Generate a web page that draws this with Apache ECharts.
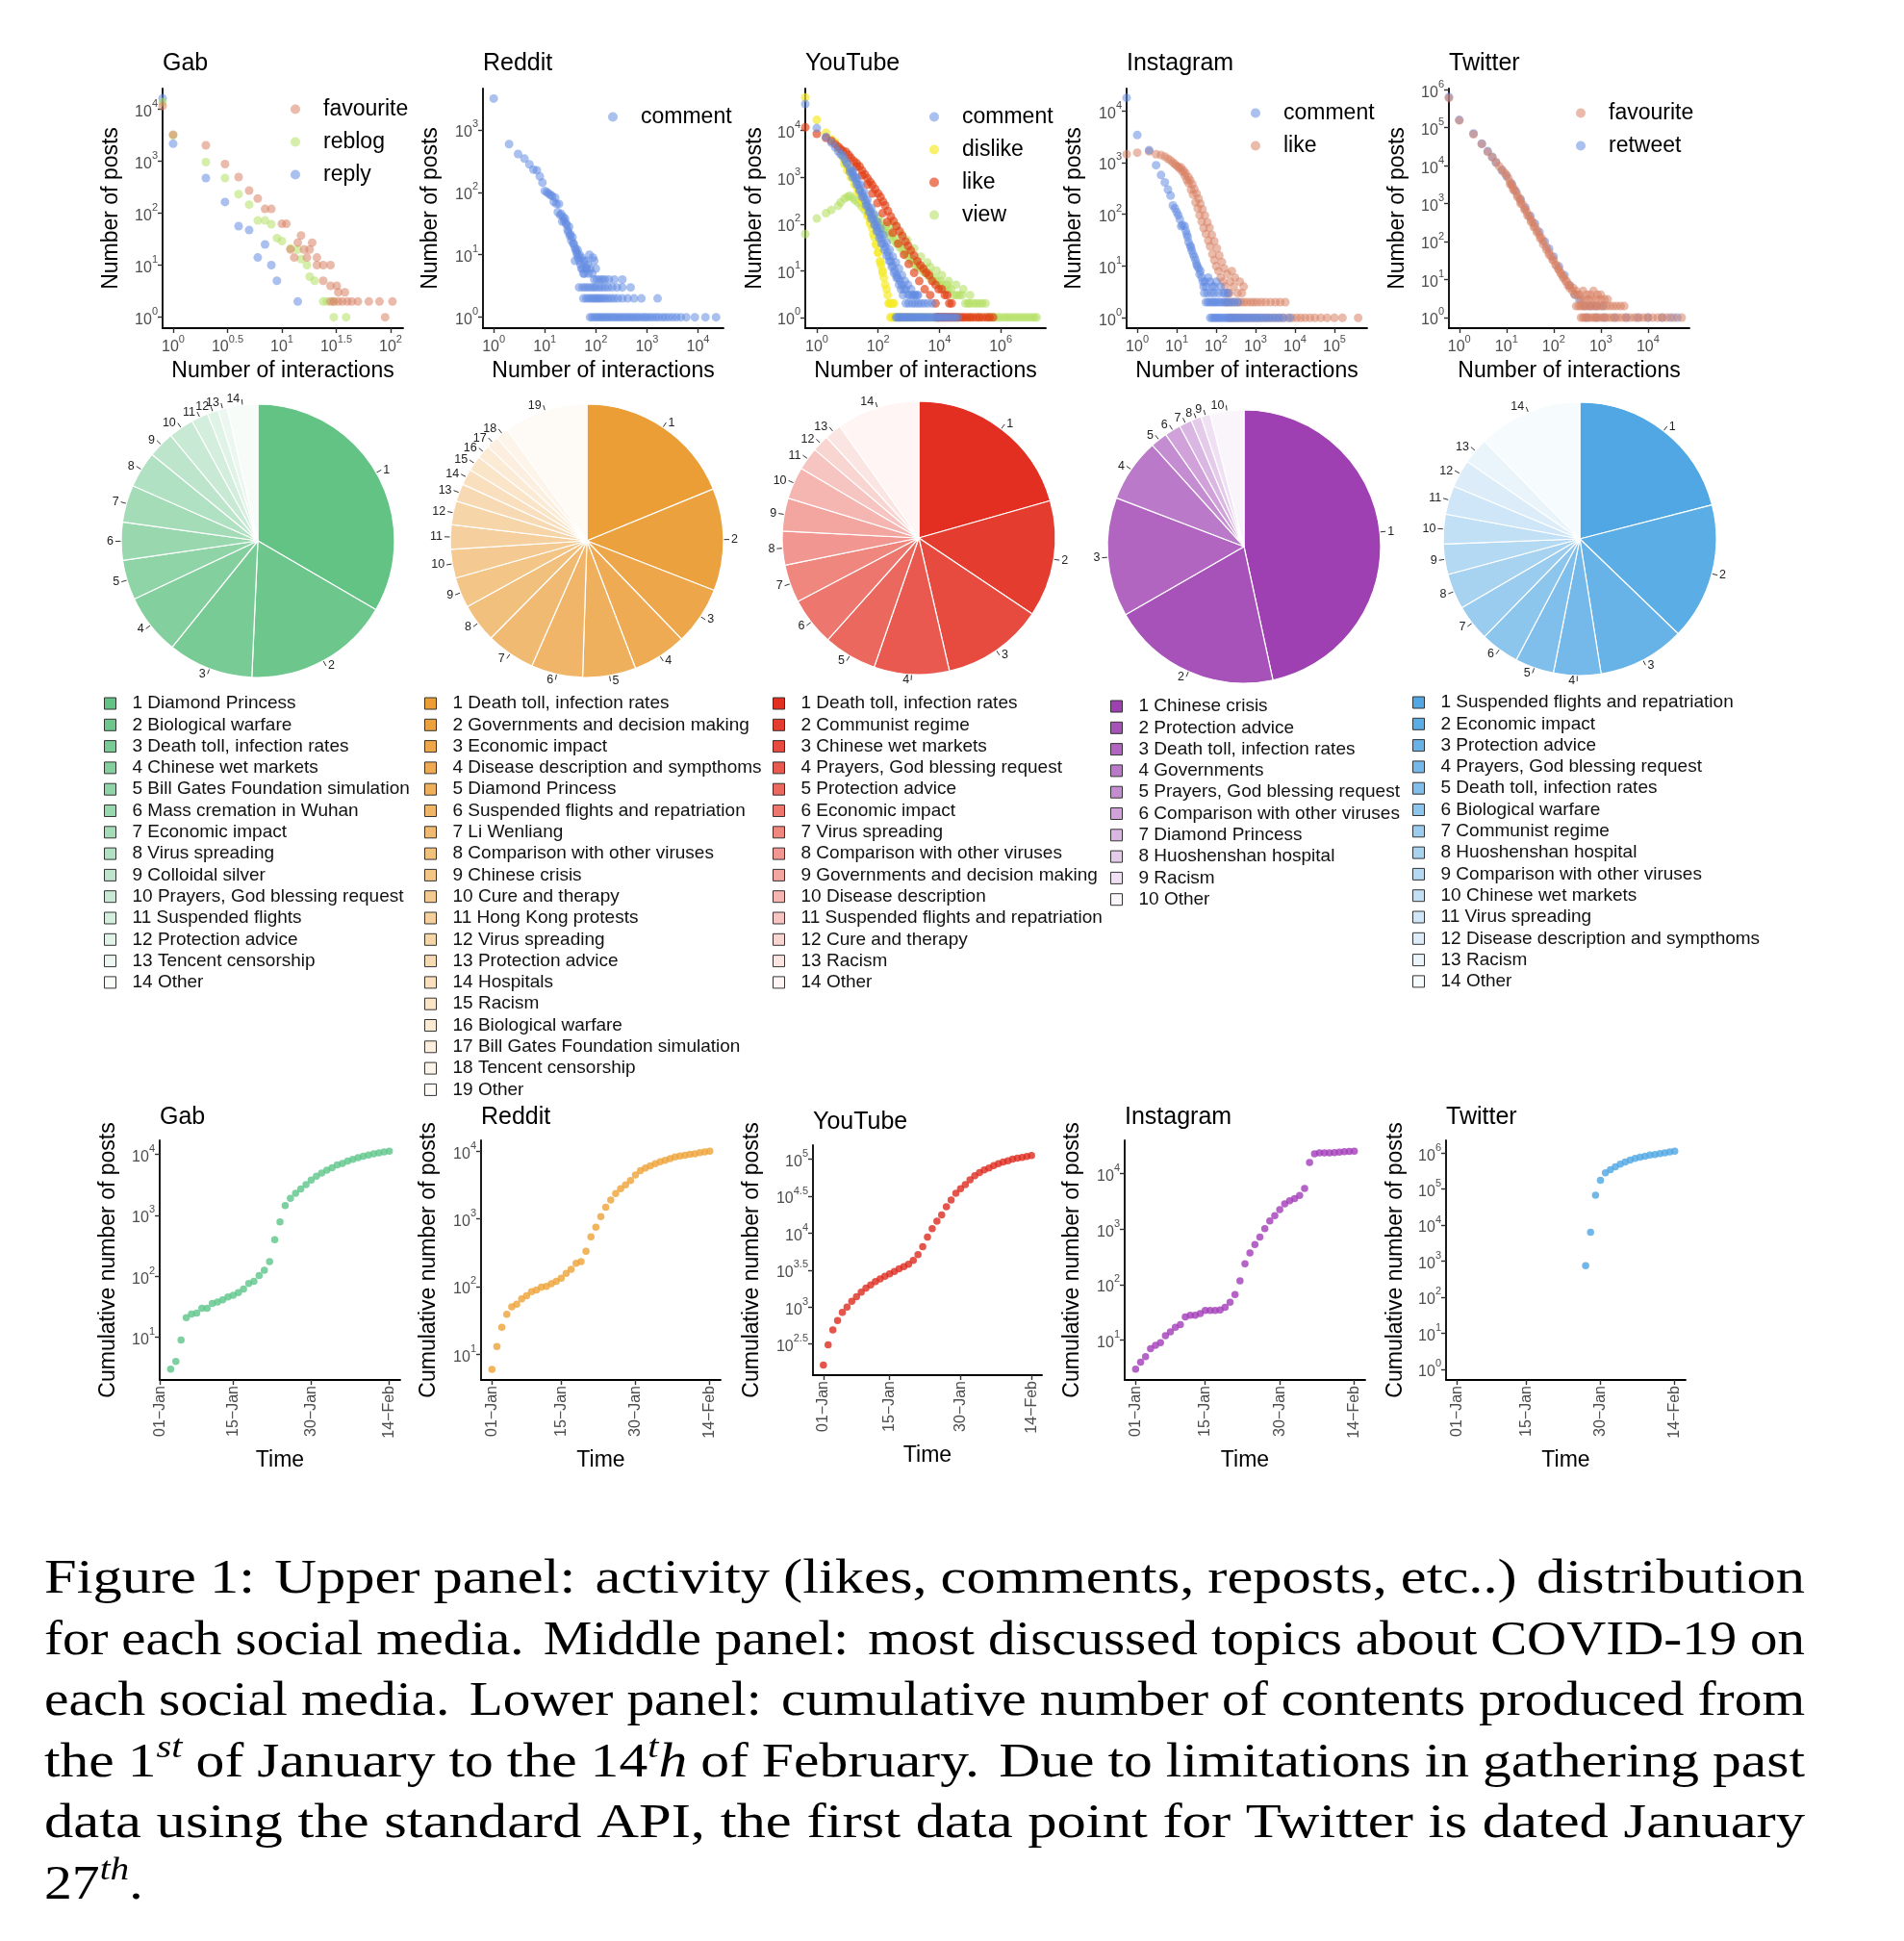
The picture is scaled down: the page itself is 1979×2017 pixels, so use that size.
<!DOCTYPE html>
<html><head><meta charset="utf-8">
<script src="https://cdn.jsdelivr.net/npm/echarts@6/dist/echarts.min.js"></script>
<style>html,body{margin:0;padding:0;background:#fff}#c{width:1979px;height:2017px}</style>
</head><body><div id="c"></div>
<script>
// ---------------- DATA ----------------
const platforms = ['Gab', 'Reddit', 'YouTube', 'Instagram', 'Twitter'];

// Upper panel: [number of interactions, number of posts]  (0 interactions drawn at panel edge)
const gabFavourite = [[0,11400],[1,3200],[2,2000],[3,870],[4,490],[5,270],[6,190],[7,120],[8,120],[10,62],[11,62],[15,37],[14,27],[19,27],[12,20],[16,20],[18,20],[13,14],[17,14],[21,14],[21,10],[24,10],[28,10],[24,5],[28,4],[32,4],[33,3],[38,3],[28,2],[30,2],[33,2],[36,2],[40,2],[44,2],[50,2],[63,2],[79,2],[104,2],[89,1]];
const gabReblog = [[0,13500],[1,3100],[2,950],[3,470],[4,230],[5,145],[6,72],[7,72],[8,61],[9,33],[10,29],[12,21],[14,20],[15,13],[17,10],[18,6],[20,5],[24,2],[26,2],[30,2],[30,1],[39,1]];
const gabReply = [[0,16000],[1,2140],[2,470],[3,163],[4,56],[5,47],[7,25],[6,14],[8,10],[9,5],[14,2]];

const redditComment = [[1,3160],[2,590],[3,410],[4,345],[5,280],[6,230],[7,225],[8,180],[9,143],[10,105],[11,100],[12,95],[13,90],[14,87],[15,70],[16,82],[17,65],[18,48],[19,65],[20,43],[21,45],[22,34],[23,40],[24,35],[25,38],[26,32],[27,30],[28,25],[29,23],[30,28],[31,20],[32,21],[33,17],[35,19],[36,15],[37,15],[39,13],[40,12],[42,11],[43,10],[44,12],[45,9],[47,8],[48,10],[39,8],[50,7],[52,6],[53,9],[55,6],[57,5],[58,8],[60,5],[63,8],[65,6],[66,6],[70,7],[72,5],[75,10],[78,6],[85,5],[88,9],[93,8],[100,6],
 [93,4],[105,4],[120,4],[135,4],[150,4],[180,4],[230,4],[330,4],
 [47,3],[55,3],[62,3],[70,3],[80,3],[90,3],[100,3],[115,3],[130,3],[150,3],[175,3],[210,3],[260,3],[330,3],[480,3],
 [57,2],[65,2],[72,2],[80,2],[88,2],[96,2],[105,2],[115,2],[125,2],[140,2],[155,2],[175,2],[200,2],[230,2],[270,2],[330,2],[420,2],[560,2],[780,2],[1620,2],
 [77,1],[85,1],[95,1],[105,1],[115,1],[128,1],[140,1],[155,1],[170,1],[190,1],[210,1],[235,1],[260,1],[290,1],[320,1],[360,1],[400,1],[450,1],[500,1],[560,1],[630,1],[700,1],[800,1],[900,1],[1000,1],[1150,1],[1300,1],[1500,1],[1700,1],[2000,1],[2300,1],[2700,1],[3200,1],[3800,1],[4600,1],[5900,1],[8700,1],[14000,1],[22600,1]];

const youtubeComment = [[0,37000],[1,11300],[2,7300],[3,5500],[4,4400],[5,3600],[6,3100],[7,2900],[8,2500],[9,2100],[10,1900],[12,1550],[14,1300],[16,1100],[18,950],[20,820],[23,680],[26,560],[30,450],[34,380],[38,320],[43,270],[48,230],[55,185],[62,150],[70,125],[80,100],[90,85],[100,70],[115,58],[130,48],[150,38],[170,32],[200,25],[230,20],[260,16],[300,13],[350,10],[400,8],[450,7],[520,6],[600,5],[700,4],[800,4],[950,3],[1100,3],[1300,3],[1600,3],[2000,3],
 [12,1300],[15,1000],[20,700],[25,520],[30,380],[40,250],[50,180],[60,130],[75,95],[90,70],[110,50],[130,38],[160,28],[190,21],[230,16],[280,12],[330,9],[400,7],[480,5],[560,4],[650,3],
 [15,1400],[20,1000],[27,700],[35,480],[45,330],[60,220],[75,160],[95,110],[120,80],[150,58],[190,40],[240,28],[300,20],[380,15],[480,11],[600,8],[750,6],[950,5],[1200,4],[1500,3],[1900,3],
 [800,2],[1000,2],[1300,2],[1600,2],[2000,2],[2500,2],[3200,2],[4200,2],[5800,2],
 [380,1],[420,1],[470,1],[520,1],[580,1],[650,1],[730,1],[820,1],[920,1],[1030,1],[1150,1],[1300,1],[1450,1],[1650,1],[1850,1],[2100,1],[2400,1],[2700,1],[3100,1],[3500,1],[4000,1],[4600,1],[5300,1],[6100,1],[7000,1],[8200,1],[9500,1],[11000,1],[13000,1],[15500,1],[18500,1],[22000,1],[27000,1],[33000,1],[40000,1]];
const youtubeDislike = [[0,51000],[1,17000],[2,9000],[3,6500],[4,5600],[5,4200],[6,3400],[7,2750],[8,2300],[10,1700],[12,1400],[13,1240],[15,1000],[18,760],[21,600],[25,480],[29,380],[34,290],[40,220],[47,160],[55,115],[65,80],[76,52],[88,35],[100,24],[115,16],[124,13],[140,9],[155,7],[170,5],[190,4],[205,3],[220,2],[240,2],[270,2],[300,2],[330,2],
 [8,1900],[10,1400],[13,1000],[17,700],[22,480],[28,330],[35,230],[45,150],[55,100],[70,60],[85,38],[100,25],[120,15],[140,10],
 [250,1],[280,1],[310,1],[350,1],[400,1],[450,1],[520,1],[600,1],[700,1],[850,1],[1000,1],[1300,1],[1700,1],[2300,1],[3200,1],[4500,1],[6500,1],[9000,1],[13000,1],[20000,1],[30000,1],[40000,1]];
const youtubeLike = [[0,11700],[1,8500],[2,7000],[3,6000],[4,5100],[5,4500],[6,4000],[7,3700],[9,3500],[11,3000],[13,2600],[16,2250],[20,2000],[25,1700],[30,1400],[37,1150],[45,950],[55,800],[65,680],[80,560],[100,450],[120,380],[145,300],[170,250],[210,190],[260,145],[320,115],[400,90],[500,70],[620,55],[780,42],[950,34],[1170,27],[1500,21],[1900,16],[2400,13],[3000,11],[3700,9],[4600,8],[5800,6],[7500,5],[9500,4],[12000,4],[15000,3],[18000,3],[21000,2],[25000,2],
 [20,1700],[30,1100],[45,700],[65,450],[95,280],[140,170],[200,110],[300,65],[450,38],[700,22],[1000,14],[1500,9],[2200,6],[3300,4],[5000,3],[7500,2],
 [8000,1],[9000,1],[10000,1],[11500,1],[13000,1],[15000,1],[17000,1],[20000,1],[23000,1],[27000,1],[32000,1],[38000,1],[45000,1],[55000,1],[65000,1],[80000,1],[100000,1],[125000,1],[160000,1],[200000,1],[260000,1],[340000,1],[430000,1],[560000,1]];
const youtubeView = [[0,61],[1,131],[2,170],[3,200],[5,245],[6,290],[8,350],[10,380],[12,400],[15,360],[18,320],[23,280],[29,235],[37,195],[47,160],[60,135],[75,120],[90,115],[115,95],[140,82],[170,72],[210,62],[260,53],[320,45],[400,38],[500,32],[610,28],[760,23],[950,20],[1170,17],[1500,14],[1800,12],[2200,12],[2800,10],[3400,9],[4200,8],[5200,7],[6500,6],[8000,6],[10000,5],[12000,5],[15000,4],[19000,4],[24000,4],[29000,3],[36000,3],[45000,3],[55000,3],[70000,2],[85000,2],[100000,2],[130000,2],[160000,2],[200000,2],[250000,2],[320000,2],
 [30,300],[40,250],[55,200],[70,160],[100,130],[130,110],[180,90],[250,100],[380,90],[600,60],[900,45],[1500,30],[2500,20],[4000,15],[5000,12],[8000,10],[12000,8],[20000,6],[35000,5],[60000,4],[100000,3],
 [240,70],[300,60],[400,48],[550,38],[750,30],[1000,24],[1400,18],[2000,14],[3000,11],[4500,9],[7000,7],[11000,6],[18000,5],
 [100000,1],[200000,1],[400000,1],[500000,1],[650000,1],[800000,1],[1000000,1],[1300000,1],[1600000,1],[2000000,1],[2500000,1],[3200000,1],[4000000,1],[5000000,1],[6300000,1],[8000000,1],[10000000,1],[12500000,1],[15000000,1]];

const instagramComment = [[0,17800],[1,3400],[2,1740],[3,890],[4,575],[5,415],[6,300],[7,230],[8,148],[9,130],[10,110],[11,96],[12,80],[13,59],[14,62],[16,59],[17,48],[18,41],[19,36],[20,29],[22,25],[23,23],[24,20],[26,17],[28,15],[30,13],[32,11],[33,10],[36,9],[38,7],[40,8],[43,6],[46,5],[48,4],[52,5],[56,4],[63,6],[70,5],[80,4],[90,4],[100,5],[115,3],[130,4],[150,3],[170,3],[200,3],
 [50,3],[60,3],[75,3],[90,3],
 [55,2],[62,2],[70,2],[80,2],[90,2],[100,2],[115,2],[130,2],[150,2],[175,2],[200,2],[240,2],[290,2],[360,2],
 [71,1],[80,1],[90,1],[100,1],[112,1],[125,1],[140,1],[160,1],[180,1],[200,1],[230,1],[260,1],[300,1],[340,1],[390,1],[450,1],[520,1],[600,1],[700,1],[820,1],[950,1],[1100,1],[1300,1],[1550,1],[1850,1],[2200,1],[2700,1],[3300,1],[4000,1],[5000,1],[7400,1]];
const instagramLike = [[0,1450],[1,1550],[2,1640],[3,1450],[4,1400],[5,1300],[6,1180],[7,1100],[8,1000],[9,930],[10,870],[11,820],[12,760],[14,660],[16,560],[18,460],[20,400],[23,300],[26,240],[30,170],[34,130],[38,96],[43,72],[48,54],[55,42],[63,31],[70,24],[80,17],[90,13],[100,10],[115,8],[130,6],[150,5],[170,4],[200,3],[220,3],
 [13,800],[15,700],[17,620],[20,520],[22,450],[25,380],[28,310],[32,250],[36,200],[40,160],[45,125],[52,95],[60,70],[68,55],[78,40],[90,30],[105,22],[120,16],[140,12],[160,9],[190,7],[230,5],[250,8],[280,4],[300,6],[350,3],[400,5],[450,3],[500,4],
 [170,2],[200,2],[240,2],[290,2],[350,2],[420,2],[500,2],[600,2],[750,2],[900,2],[1100,2],[1400,2],[1800,2],[2400,2],[3200,2],[4200,2],[5700,2],
 [220,1],[260,1],[320,1],[400,1],[500,1],[650,1],[850,1],[1100,1],[1400,1],[1800,1],[2300,1],[3000,1],[3900,1],[5000,1],[6500,1],[8500,1],[11000,1],[14000,1],[18000,1],[24000,1],[32000,1],[45000,1],[65000,1],[100000,1],[160000,1],[400000,1]];

const twitterFavourite = [[0,600000],[1,155000],[2,67000],[3,37000],[4,23000],[5,16600],[6,12400],[7,9600],[8,7900],[9,6500],[10,5700],[11,4600],[12,3650],[13,3100],[14,2600],[15,2200],[17,1700],[19,1350],[20,1150],[22,950],[25,710],[27,600],[30,470],[33,390],[36,320],[40,250],[45,195],[50,150],[55,125],[60,102],[70,72],[80,52],[90,40],[100,32],[115,24],[130,18],[145,14],[160,11],[180,9],[200,7],[220,6],[250,5],[280,4],[320,4],[380,3],[450,3],[550,3],[650,3],[800,3],[1000,3],
 [12,3200],[14,2300],[17,1500],[20,1000],[24,700],[28,480],[33,330],[38,240],[44,175],[52,120],[60,85],[70,62],[80,45],[95,33],[110,24],[125,19],[140,15],[160,12],[190,9],[220,7],[260,6],[300,5],[350,4],[420,5],[500,4],[600,4],[700,5],[850,4],[1000,4],[1200,3],[1400,3],
 [300,2],[340,2],[380,2],[430,2],[490,2],[560,2],[640,2],[730,2],[830,2],[950,2],[1100,2],[1300,2],[1550,2],[1850,2],[2200,2],[2650,2],[3150,2],
 [380,1],[420,1],[470,1],[530,1],[600,1],[680,1],[770,1],[870,1],[1000,1],[1150,1],[1350,1],[1600,1],[1900,1],[2300,1],[2800,1],[3400,1],[4200,1],[5200,1],[6500,1],[8000,1],[10000,1],[12500,1],[16000,1],[20000,1],[25000,1],[35000,1],[52000,1]];
const twitterRetweet = [[0,640000],[1,160000],[2,70000],[3,38000],[4,24000],[5,17000],[6,12000],[8,7500],[10,5300],[13,3300],[16,2100],[20,1300],[25,800],[32,480],[40,300],[50,180],[65,100],[80,65],[100,40],[130,22],[170,13],[220,7],[280,4],[350,3],[450,2],[600,2],[800,2],[1100,2],[500,1],[800,1],[1200,1],[2000,1],[3500,1],[6000,1],[10000,1],[20000,1],[30000,1],[42000,1]];

// Upper panel axis ticks (exponents of 10)
const gabXTicks = [0, 0.5, 1, 1.5, 2],   gabYTicks = [0, 1, 2, 3, 4];
const redditXTicks = [0, 1, 2, 3, 4],    redditYTicks = [0, 1, 2, 3];
const youtubeXTicks = [0, 2, 4, 6],      youtubeYTicks = [0, 1, 2, 3, 4];
const instagramXTicks = [0, 1, 2, 3, 4, 5], instagramYTicks = [0, 1, 2, 3, 4];
const twitterXTicks = [0, 1, 2, 3, 4],   twitterYTicks = [0, 1, 2, 3, 4, 5, 6];

// Middle panel: topics and shares (%)
const gabTopics = ['Diamond Princess','Biological warfare','Death toll, infection rates','Chinese wet markets','Bill Gates Foundation simulation','Mass cremation in Wuhan','Economic impact','Virus spreading','Colloidal silver','Prayers, God blessing request','Suspended flights','Protection advice','Tencent censorship','Other'];
const gabShares = [33.4,17.3,10.1,7.2,4.7,4.5,4.4,4.3,3.1,3.0,2.0,1.3,1.1,3.6];
const redditTopics = ['Death toll, infection rates','Governments and decision making','Economic impact','Disease description and sympthoms','Diamond Princess','Suspended flights and repatriation','Li Wenliang','Comparison with other viruses','Chinese crisis','Cure and therapy','Hong Kong protests','Virus spreading','Protection advice','Hospitals','Racism','Biological warfare','Bill Gates Foundation simulation','Tencent censorship','Other'];
const redditShares = [18.8,12.1,6.9,6.4,6.3,6.1,5.8,4.6,3.6,3.4,2.9,2.8,2.1,1.9,1.8,1.6,1.5,1.5,9.9];
const youtubeTopics = ['Death toll, infection rates','Communist regime','Chinese wet markets','Prayers, God blessing request','Protection advice','Economic impact','Virus spreading','Comparison with other viruses','Governments and decision making','Disease description','Suspended flights and repatriation','Cure and therapy','Racism','Other'];
const youtubeShares = [20.6,13.8,12.0,8.9,6.3,5.7,4.5,4.0,3.9,3.8,2.7,2.0,2.0,9.8];
const instagramTopics = ['Chinese crisis','Protection advice','Death toll, infection rates','Governments','Prayers, God blessing request','Comparison with other viruses','Diamond Princess','Huoshenshan hospital','Racism','Other'];
const instagramShares = [46.6,20.1,14.1,7.5,2.0,1.9,1.5,1.2,1.1,4.0];
const twitterTopics = ['Suspended flights and repatriation','Economic impact','Protection advice','Prayers, God blessing request','Death toll, infection rates','Biological warfare','Communist regime','Huoshenshan hospital','Comparison with other viruses','Chinese wet markets','Virus spreading','Disease description and sympthoms','Racism','Other'];
const twitterShares = [21.0,16.2,10.3,5.6,4.6,4.6,4.3,4.2,3.6,3.5,3.4,3.3,3.1,12.3];

// Lower panel: cumulative number of posts, one value per day from the start day (day 0 = 1 Jan)
const gabStartDay = 2;
const gabCumulative = [3,4,9,21,24,25,30,30,36,38,41,46,49,54,62,76,83,103,126,175,400,780,1450,1900,2300,2700,3200,3800,4400,4950,5500,6050,6700,7100,7800,8300,8800,9300,9800,10200,10600,11000,11300];
const redditStartDay = 0;
const redditCumulative = [6,13,25,39,50,55,66,73,84,89,98,101,110,119,133,156,180,220,234,333,545,755,1080,1490,1900,2360,2780,3180,3700,4440,5150,5640,6050,6560,7000,7350,7770,8250,8500,8700,9000,9150,9550,9750,10000];
const youtubeStartDay = 0;
const youtubeCumulative = [165,310,490,660,850,1000,1200,1380,1590,1810,2000,2220,2400,2620,2810,3030,3300,3520,3800,4270,5130,6560,8850,11500,14500,17700,22800,28000,34700,40000,45500,52800,60000,66000,71500,76000,81700,87000,91500,95500,100000,103000,106000,109000,112000];
const instagramStartDay = 0;
const instagramCumulative = [3,4,5,7,8,9,12,14,17,19,26,28,28,30,34,34,34,35,39,48,66,117,236,370,525,720,1020,1400,1740,2240,2840,3250,3560,4040,5390,15900,22700,23600,23600,23800,24000,24300,25000,25200,25500];
const twitterStartDay = 26;
const twitterCumulative = [740,6350,67000,175000,282000,345000,415000,490000,565000,635000,710000,760000,815000,870000,905000,965000,1000000,1070000,1120000];

const dateTickDays = [0, 14, 29, 44];
const dateTickLabels = ['01\u2212Jan', '15\u2212Jan', '30\u2212Jan', '14\u2212Feb'];
const gabCumYTicks = [1,2,3,4], redditCumYTicks = [1,2,3,4], youtubeCumYTicks = [2.5,3,3.5,4,4.5,5], instagramCumYTicks = [1,2,3,4], twitterCumYTicks = [0,1,2,3,4,5,6];

const captionLines = [
  'Figure 1: Upper panel: activity (likes, comments, reposts, etc..) distribution',
  'for each social media. Middle panel: most discussed topics about COVID-19 on',
  'each social media. Lower panel: cumulative number of contents produced from',
  'the 1^{st} of January to the 14^{t}_{h} of February. Due to limitations in gathering past',
  'data using the standard API, the first data point for Twitter is dated January',
  '27^{th}.'
];

// ---------------- STYLE / LAYOUT ----------------
const FONT = '"Liberation Sans", Arial, Helvetica, sans-serif';
const cFav = 'rgba(216,130,100,0.68)';
const cReb = 'rgba(178,224,98,0.68)';
const cBlue = 'rgba(98,138,226,0.68)';
const cDis = 'rgba(246,234,40,0.85)';
const cLikeYT = 'rgba(226,62,20,0.82)';
const cView = 'rgba(178,224,98,0.72)';

const topLayout = [
  {left:169, xr:[-0.097,2.115], yr:[-0.21,4.39], xt:gabXTicks, yt:gabYTicks, gapY:42, lgL:297, lgT:96},
  {left:502, xr:[-0.21,4.5], yr:[-0.175,3.66], xt:redditXTicks, yt:redditYTicks, gapY:43, lgL:627, lgT:104},
  {left:837, xr:[-0.375,7.47], yr:[-0.23,4.9], xt:youtubeXTicks, yt:youtubeYTicks, gapY:41, lgL:961, lgT:104},
  {left:1171, xr:[-0.27,5.83], yr:[-0.2,4.43], xt:instagramXTicks, yt:instagramYTicks, gapY:43, lgL:1295, lgT:100},
  {left:1506, xr:[-0.22,4.88], yr:[-0.28,6.03], xt:twitterXTicks, yt:twitterYTicks, gapY:42, lgL:1633, lgT:100}
];
const topSeries = [
  [{name:'favourite', data:gabFavourite, color:cFav, z:5}, {name:'reblog', data:gabReblog, color:cReb, z:4}, {name:'reply', data:gabReply, color:cBlue, z:3}],
  [{name:'comment', data:redditComment, color:cBlue, z:3}],
  [{name:'comment', data:youtubeComment, color:cBlue, z:6}, {name:'dislike', data:youtubeDislike, color:cDis, z:4}, {name:'like', data:youtubeLike, color:cLikeYT, z:5}, {name:'view', data:youtubeView, color:cView, z:3}],
  [{name:'comment', data:instagramComment, color:cBlue, z:5}, {name:'like', data:instagramLike, color:cFav, z:4}],
  [{name:'favourite', data:twitterFavourite, color:cFav, z:5}, {name:'retweet', data:twitterRetweet, color:cBlue, z:4}]
];

const pieLayout = [
  {center:[268,562], base:[99,195,133], lgL:103, lgT:716},
  {center:[610,562], base:[235,157,54], lgL:436, lgT:716},
  {center:[955,559], base:[227,47,34], lgL:798, lgT:716},
  {center:[1293,568], base:[158,64,178], lgL:1149, lgT:719},
  {center:[1642,560], base:[80,167,227], lgL:1463, lgT:715}
];
const pieData = [[gabTopics,gabShares],[redditTopics,redditShares],[youtubeTopics,youtubeShares],[instagramTopics,instagramShares],[twitterTopics,twitterShares]];

const bottomLayout = [
  {left:166, top:1185, width:250, height:249, xr:[-0.1,46.1], yr:[0.30,4.23], yt:gabCumYTicks, gapY:42, titleTop:1149},
  {left:500, top:1185, width:249, height:249, xr:[-2.2,46.2], yr:[0.62,4.16], yt:redditCumYTicks, gapY:43, titleTop:1149},
  {left:845, top:1190, width:238, height:239, xr:[-2.2,46.2], yr:[2.08,5.19], yt:youtubeCumYTicks, gapY:52, titleTop:1154},
  {left:1169, top:1185, width:250, height:249, xr:[-2.2,46.2], yr:[0.28,4.6], yt:instagramCumYTicks, gapY:43, titleTop:1149},
  {left:1503, top:1185, width:249, height:249, xr:[-2.2,46.2], yr:[-0.3,6.35], yt:twitterCumYTicks, gapY:41, titleTop:1149}
];
const bottomSeries = [[gabStartDay,gabCumulative],[redditStartDay,redditCumulative],[youtubeStartDay,youtubeCumulative],[instagramStartDay,instagramCumulative],[twitterStartDay,twitterCumulative]];
const bottomColors = ['#5cc68a','#eda237','#dd2b1f','#a33cb9','#4ea6e3'];

// ---------------- BUILD ----------------
function expLabel(v){ const e = Math.abs(v - Math.round(v)) < 1e-9 ? String(Math.round(v)) : v.toFixed(1); return '{b|10}{s|' + e + '}'; }
const supRich = {
  b:{fontSize:16, color:'#4d4d4d', fontFamily:FONT, lineHeight:22, verticalAlign:'bottom'},
  s:{fontSize:11, color:'#4d4d4d', fontFamily:FONT, lineHeight:12, verticalAlign:'top'}
};
const axisLineStyle = {show:true, onZero:false, lineStyle:{color:'#000', width:1.8}};
const tickStyle = {color:'#333', width:1.4};
const nameStyle = {fontSize:23, color:'#000', fontFamily:FONT};
const titleStyle = {fontSize:25, fontWeight:'normal', color:'#000', fontFamily:FONT};

const grids = [], xAxes = [], yAxes = [], series = [], legends = [], titles = [];

topLayout.forEach((L, i) => {
  const gi = grids.length;
  grids.push({left:L.left, top:92, width:250, height:249, containLabel:false});
  xAxes.push({type:'value', gridIndex:gi, min:L.xr[0], max:L.xr[1],
    name:'Number of interactions', nameLocation:'middle', nameGap:33, nameTextStyle:nameStyle,
    axisLine:axisLineStyle, splitLine:{show:false},
    axisTick:{show:true, length:5, lineStyle:tickStyle, customValues:L.xt},
    axisLabel:{customValues:L.xt, formatter:expLabel, rich:supRich, margin:6}});
  yAxes.push({type:'value', gridIndex:gi, min:L.yr[0], max:L.yr[1],
    name:'Number of posts', nameLocation:'middle', nameGap:L.gapY, nameTextStyle:nameStyle,
    axisLine:axisLineStyle, splitLine:{show:false},
    axisTick:{show:true, length:5, lineStyle:tickStyle, customValues:L.yt},
    axisLabel:{customValues:L.yt, formatter:expLabel, rich:supRich, margin:5}});
  titles.push({text:platforms[i], left:L.left, top:54, padding:0, textStyle:titleStyle});
  topSeries[i].forEach(s => {
    series.push({type:'scatter', name:s.name, xAxisIndex:gi, yAxisIndex:gi, z:s.z, clip:false, silent:true,
      symbol:'circle', symbolSize:9, itemStyle:{color:s.color},
      data:s.data.map(p => [p[0] > 0 ? Math.log10(p[0]) : L.xr[0], Math.log10(p[1])])});
  });
  legends.push({orient:'vertical', left:L.lgL, top:L.lgT, icon:'circle', itemWidth:48, itemHeight:10, itemGap:9,
    selectedMode:false, textStyle:{fontSize:23, color:'#000', fontFamily:FONT, lineHeight:25},
    data:topSeries[i].slice().sort((a,b)=>a.name.localeCompare(b.name)).map(s => ({name:s.name, itemStyle:{color:s.color}}))});
});

function mix(base, t){ return 'rgb(' + base.map(c => Math.round(c + (255 - c) * t)).join(',') + ')'; }
pieLayout.forEach((L, i) => {
  const topics = pieData[i][0], shares = pieData[i][1];
  const n = topics.length;
  const cols = topics.map((_, k) => mix(L.base, 0.95 * Math.pow(k / (n - 1), 1.05)));
  const names = topics.map((t, k) => (k + 1) + ' ' + t);
  series.push({type:'pie', center:L.center, radius:142, startAngle:90, clockwise:true, avoidLabelOverlap:false,
    silent:true, emphasis:{disabled:true}, labelLayout:{hideOverlap:false},
    itemStyle:{borderColor:'#ffffff', borderWidth:1.2},
    label:{show:true, position:'outside', formatter:p => p.name.split(' ')[0], fontSize:12.5, color:'#222', fontFamily:FONT, distanceToLabelLine:2, minMargin:0},
    labelLine:{show:true, length:6, length2:0, smooth:false, lineStyle:{color:'#333', width:1}},
    data:names.map((nm, k) => ({name:nm, value:shares[k], itemStyle:{color:cols[k]}}))});
  legends.push({orient:'vertical', left:L.lgL, top:L.lgT, icon:'rect', itemWidth:12, itemHeight:12, itemGap:2.3,
    selectedMode:false, textStyle:{fontSize:19, color:'#111', fontFamily:FONT, lineHeight:20, padding:[0,0,0,12]},
    data:names.map((nm, k) => ({name:nm, itemStyle:{color:cols[k], borderColor:'#333', borderWidth:1}}))});
});

bottomLayout.forEach((L, i) => {
  const gi = grids.length;
  grids.push({left:L.left, top:L.top, width:L.width, height:L.height, containLabel:false});
  xAxes.push({type:'value', gridIndex:gi, min:L.xr[0], max:L.xr[1],
    name:'Time', nameLocation:'middle', nameGap:72, nameTextStyle:nameStyle,
    axisLine:axisLineStyle, splitLine:{show:false},
    axisTick:{show:true, length:5, lineStyle:tickStyle, customValues:dateTickDays},
    axisLabel:{customValues:dateTickDays, rotate:90, margin:6, fontSize:16, color:'#4d4d4d', fontFamily:FONT,
      formatter:v => dateTickLabels[dateTickDays.indexOf(Math.round(v))]}});
  yAxes.push({type:'value', gridIndex:gi, min:L.yr[0], max:L.yr[1],
    name:'Cumulative number of posts', nameLocation:'middle', nameGap:L.gapY, nameTextStyle:nameStyle,
    axisLine:axisLineStyle, splitLine:{show:false},
    axisTick:{show:true, length:5, lineStyle:tickStyle, customValues:L.yt},
    axisLabel:{customValues:L.yt, formatter:expLabel, rich:supRich, margin:5}});
  titles.push({text:platforms[i], left:L.left, top:L.titleTop, padding:0, textStyle:titleStyle});
  const start = bottomSeries[i][0], vals = bottomSeries[i][1];
  series.push({type:'scatter', name:platforms[i] + ' cumulative', xAxisIndex:gi, yAxisIndex:gi, clip:false, silent:true,
    symbol:'circle', symbolSize:7.5, itemStyle:{color:bottomColors[i]},
    data:vals.map((v, k) => [start + k, Math.log10(v)])});
});

// caption (justified like the LaTeX source)
const capFamily = 'Liberation Serif';
const capSize = 50, supSize = 34;
const capX0 = 46, capX1 = 1876;
const capBaselines = [1657, 1720.5, 1784, 1847.5, 1911, 1974.5];
const mctx = document.createElement('canvas').getContext('2d');
function parseWord(w){
  return w.split(/(\^\{[^}]*\}|_\{[^}]*\})/).filter(s => s).map(s => {
    if (s[0] === '^') return {t:s.slice(2, -1), sup:true, it:true};
    if (s[0] === '_' && s[1] === '{') return {t:s.slice(2, -1), it:true};
    return {t:s};
  });
}
function segW(sg){ mctx.font = (sg.it ? 'italic ' : '') + (sg.sup ? supSize : capSize) + 'px "' + capFamily + '"'; return mctx.measureText(sg.t).width; }
const capWords = captionLines.map(l => l.split(' ').map(w => { const segs = parseWord(w); segs.forEach(s => s.w = segW(s)); return {segs, w:segs.reduce((a, s) => a + s.w, 0), end:w[w.length - 1]}; }));
function gapWeights(words){ return words.slice(0, -1).map(w => /[:.)]/.test(w.end) ? 1.45 : 1); }
const lineW = capX1 - capX0;
let sxMin = Infinity;
capWords.slice(0, -1).forEach(words => {
  const W = words.reduce((a, w) => a + w.w, 0), gw = gapWeights(words).reduce((a, b) => a + b, 0);
  sxMin = Math.min(sxMin, (lineW - 12 * gw) / W);
});
const graphics = [];
capWords.forEach((words, li) => {
  const W = words.reduce((a, w) => a + w.w, 0);
  const gws = gapWeights(words), gsum = gws.reduce((a, b) => a + b, 0);
  const last = li === capWords.length - 1;
  const sx = last ? sxMin : Math.min((lineW - 14 * gsum) / W, sxMin * 1.05);
  const unit = last ? 12 : (lineW - sx * W) / gsum;
  let x = capX0;
  const bl = capBaselines[li];
  words.forEach((w, wi) => {
    let sxp = x;
    w.segs.forEach(sg => {
      graphics.push({type:'text', x:sxp, y:sg.sup ? bl - 20 - 0.3 * supSize : bl - 0.3 * capSize, scaleX:sx, silent:true,
        style:{text:sg.t, fontSize:sg.sup ? supSize : capSize, fontFamily:capFamily, fontStyle:sg.it ? 'italic' : 'normal',
          fill:'#000', align:'left', verticalAlign:'middle'}});
      sxp += sg.w * sx;
    });
    x += w.w * sx + (wi < gws.length ? gws[wi] * unit : 0);
  });
});

const chart = echarts.init(document.getElementById('c'), null, {renderer:'canvas'});
chart.setOption({
  backgroundColor:'#ffffff', animation:false,
  title:titles, grid:grids, xAxis:xAxes, yAxis:yAxes, legend:legends, series:series, graphic:graphics
});
</script></body></html>
